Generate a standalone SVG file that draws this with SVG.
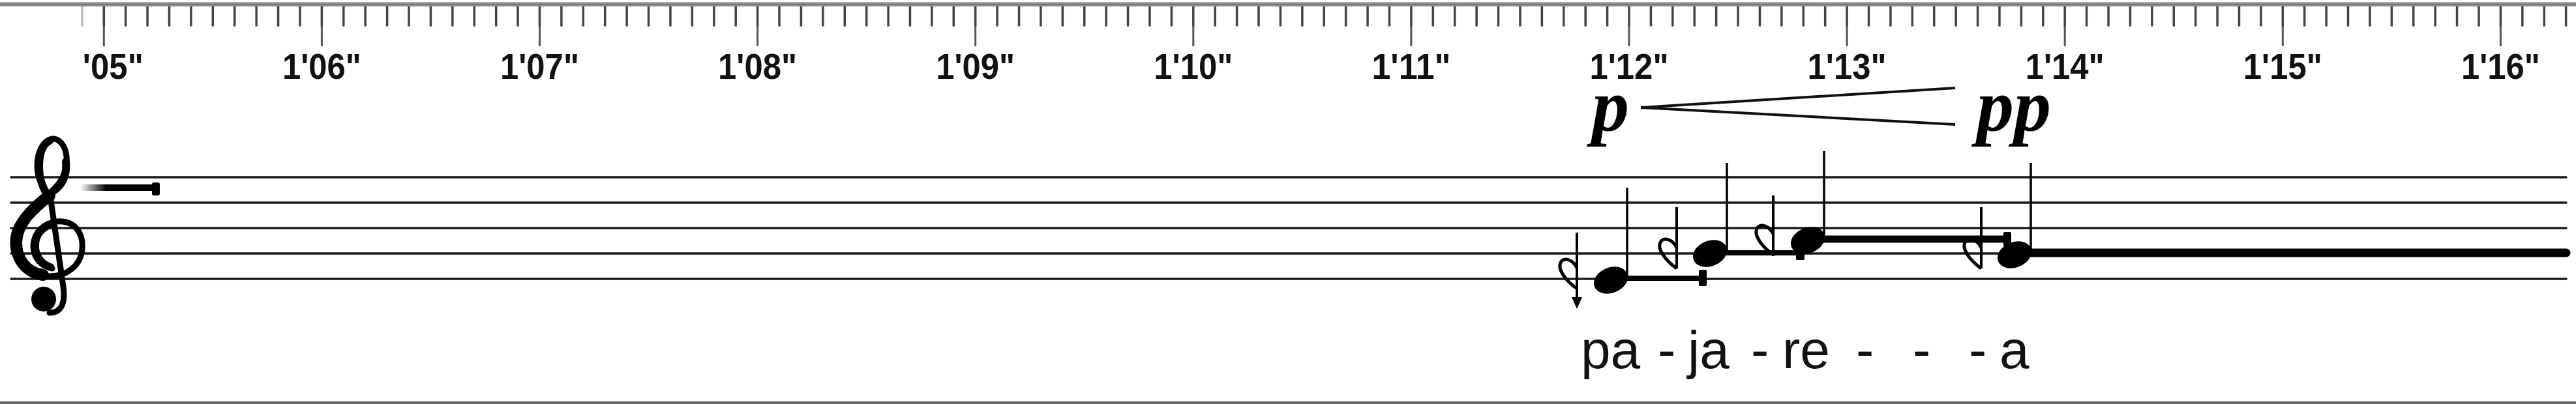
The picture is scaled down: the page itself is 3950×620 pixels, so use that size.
<svg xmlns="http://www.w3.org/2000/svg" width="3950" height="620" viewBox="0 0 3950 620">
  <defs>
    <style>
      .lbl { font-family: "Liberation Sans", Arial, sans-serif; font-weight: bold; font-size: 56px; fill: #111; text-anchor: middle; }
      .lyr { font-family: "Liberation Sans", Arial, sans-serif; font-size: 82px; fill: #111; }
      .dyn { font-family: "Liberation Serif", "Times New Roman", serif; font-weight: bold; font-style: italic; font-size: 114px; fill: #000; }
      .staff { stroke: #1a1a1a; stroke-width: 3.5; stroke-linecap: round; }
      .stem { stroke: #000; stroke-width: 3.5; }
      .acc { stroke: #000; stroke-width: 4; fill: none; }
      .bowl { stroke: #000; stroke-width: 5; fill: none; stroke-linejoin: round; }
      .head { fill: #000; }
      .dur { stroke: #000; }
    </style>
    <linearGradient id="fade" x1="0" y1="0" x2="1" y2="0">
      <stop offset="0" stop-color="#000" stop-opacity="0"/>
      <stop offset="0.35" stop-color="#000" stop-opacity="1"/>
      <stop offset="1" stop-color="#000" stop-opacity="1"/>
    </linearGradient>
    <path id="rflat" d="M0,-32 C-6,-44 -20,-50 -25,-40 C-30,-30 -18,-13 0,0" class="bowl"/>
    <ellipse id="nh" cx="0" cy="0" rx="27" ry="19.5" transform="rotate(-22)" class="head"/>
  </defs>

  <rect x="0" y="0" width="3950" height="620" fill="#fff"/>

  <!-- ruler -->
  <g id="ruler">
    <rect x="0" y="3" width="3950" height="7" fill="#a8a8a8"/>
    <line x1="0" y1="7" x2="3950" y2="7" stroke="#777" stroke-width="3"/>
    <line x1="124.3" y1="25" x2="127.8" y2="25" stroke="#444" stroke-width="31" opacity="0.35"/>
    <line x1="157.55" y1="25" x2="3940" y2="25" stroke="#444" stroke-width="31" stroke-dasharray="3.5 29.91"/>
    <line x1="157.8" y1="55.5" x2="3850" y2="55.5" stroke="#555" stroke-width="31" stroke-dasharray="3 331.1"/>
    <text class="lbl" x="219.8" y="121" style="text-anchor:end" textLength="93" lengthAdjust="spacingAndGlyphs">'05"</text>
    <text class="lbl" x="493.4" y="121" textLength="121" lengthAdjust="spacingAndGlyphs">1'06"</text>
    <text class="lbl" x="827.5" y="121" textLength="121" lengthAdjust="spacingAndGlyphs">1'07"</text>
    <text class="lbl" x="1161.6" y="121" textLength="121" lengthAdjust="spacingAndGlyphs">1'08"</text>
    <text class="lbl" x="1495.7" y="121" textLength="121" lengthAdjust="spacingAndGlyphs">1'09"</text>
    <text class="lbl" x="1829.8" y="121" textLength="121" lengthAdjust="spacingAndGlyphs">1'10"</text>
    <text class="lbl" x="2163.9" y="121" textLength="121" lengthAdjust="spacingAndGlyphs">1'11"</text>
    <text class="lbl" x="2498.0" y="121" textLength="121" lengthAdjust="spacingAndGlyphs">1'12"</text>
    <text class="lbl" x="2832.1" y="121" textLength="121" lengthAdjust="spacingAndGlyphs">1'13"</text>
    <text class="lbl" x="3166.2" y="121" textLength="121" lengthAdjust="spacingAndGlyphs">1'14"</text>
    <text class="lbl" x="3500.3" y="121" textLength="121" lengthAdjust="spacingAndGlyphs">1'15"</text>
    <text class="lbl" x="3834.4" y="121" textLength="121" lengthAdjust="spacingAndGlyphs">1'16"</text>
  </g>

  <!-- staff -->
  <g id="staff">
    <line class="staff" x1="17" y1="272" x2="3935" y2="272"/>
    <line class="staff" x1="17" y1="311" x2="3935" y2="311"/>
    <line class="staff" x1="17" y1="350" x2="3935" y2="350"/>
    <line class="staff" x1="17" y1="389" x2="3935" y2="389"/>
    <line class="staff" x1="17" y1="428" x2="3935" y2="428"/>
  </g>

  <!-- treble clef -->
  <g id="clef" fill="none" stroke="#000" stroke-linecap="round" stroke-linejoin="round">
    <path stroke-width="9" d="M 80,412 C 58,408 48,388 52,370 C 56,350 76,338 96,340 C 118,342 128,362 126,382 C 124,408 102,424 76,424 C 44,424 20,402 20,372 C 20,340 48,318 74,298 C 94,282 104,262 102,240 C 100,222 90,212 80,213 C 66,215 57,234 57,254 C 57,276 68,292 78,308 L 97,440 C 101,468 92,480 76,480"/>
    <path stroke-width="18" d="M 66,422 C 40,418 25,398 25,372 C 26,342 50,320 76,300"/>
    <path stroke-width="12" d="M 76,216 C 64,222 60,238 60,256 C 60,276 66,290 76,304"/>
    <path stroke-width="12" d="M 101,248 C 103,268 96,282 84,292"/>
    <path stroke-width="11" d="M 78,410 C 60,404 52,388 55,370 C 58,356 68,348 80,344"/>
    <circle cx="67" cy="459" r="19" fill="#000" stroke="none"/>
  </g>

  <!-- initial duration line -->
  <g id="rest">
    <rect x="123" y="283" width="114" height="10" fill="url(#fade)"/>
    <rect x="233" y="280" width="12" height="20" rx="3" fill="#000"/>
  </g>

  <!-- dynamics -->
  <g id="dynamics">
    <text class="dyn" x="2441" y="201">p</text>
    <text class="dyn" x="3031" y="201">pp</text>
  </g>

  <!-- notes -->
  <g id="note1">
    <line class="acc" x1="2418" y1="357" x2="2418" y2="462"/>
    <polygon points="2410,456 2426,456 2418,474" fill="#000"/>
    <use href="#rflat" x="2418" y="443"/>
    <use href="#nh" transform="translate(2470,430)"/>
    <line class="stem" x1="2495" y1="288" x2="2495" y2="425"/>
  </g>
  <g id="note2">
    <line class="acc" x1="2571" y1="318" x2="2571" y2="412"/>
    <use href="#rflat" x="2571" y="412"/>
    <use href="#nh" transform="translate(2622,389)"/>
    <line class="stem" x1="2648" y1="250" x2="2648" y2="385"/>
  </g>
  <g id="note3">
    <line class="acc" x1="2719" y1="300" x2="2719" y2="393"/>
    <use href="#rflat" x="2719" y="391"/>
    <use href="#nh" transform="translate(2772,369)"/>
    <line class="stem" x1="2797" y1="232" x2="2797" y2="365"/>
  </g>
  <g id="note4">
    <line class="acc" x1="3038" y1="318" x2="3038" y2="412"/>
    <use href="#rflat" x="3038" y="412"/>
    <use href="#nh" transform="translate(3089,391)"/>
    <line class="stem" x1="3114" y1="250" x2="3114" y2="387"/>
  </g>

  <!-- connectors: hairpin and duration lines -->
  <g id="connectors">
    <path d="M 2516,165 L 2998,135 M 2516,165 L 2998,191" stroke="#111" stroke-width="4" fill="none"/>
    <line class="dur" x1="2494" y1="427" x2="2610" y2="427" stroke-width="8"/>
    <rect x="2605" y="414" width="12" height="25" rx="2" fill="#000"/>
    <line class="dur" x1="2647" y1="388" x2="2762" y2="388" stroke-width="8"/>
    <rect x="2754" y="380" width="13" height="19" rx="2" fill="#000"/>
    <line class="dur" x1="2796" y1="367" x2="3078" y2="367" stroke-width="11"/>
    <rect x="3072" y="356" width="12" height="22" rx="2" fill="#000"/>
    <line class="dur" x1="3113" y1="388" x2="3935" y2="388" stroke-width="13" stroke-linecap="round"/>
  </g>

  <!-- lyrics -->
  <g id="lyrics">
    <text class="lyr" x="2424" y="565">pa</text>
    <text class="lyr" x="2542" y="565">-</text>
    <text class="lyr" x="2588" y="565">ja</text>
    <text class="lyr" x="2685" y="565">-</text>
    <text class="lyr" x="2733" y="565">re</text>
    <text class="lyr" x="2846" y="565">-</text>
    <text class="lyr" x="2933" y="565">-</text>
    <text class="lyr" x="3019" y="565">-</text>
    <text class="lyr" x="3066" y="565">a</text>
  </g>

  <line id="frame-bottom" x1="0" y1="618" x2="3950" y2="618" stroke="#666" stroke-width="4"/>
</svg>
